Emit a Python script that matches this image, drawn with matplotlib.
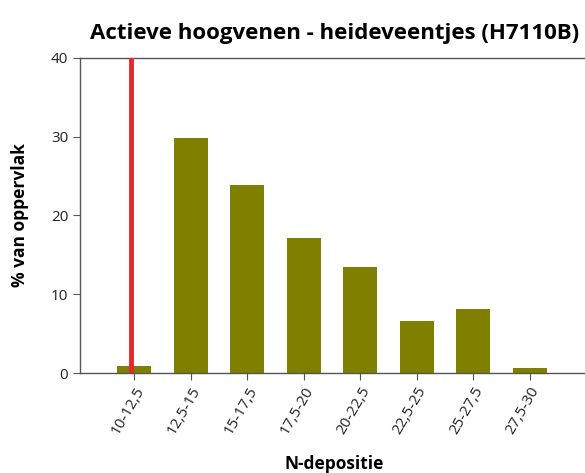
import matplotlib.pyplot as plt

plt.rcParams['font.family'] = ['Open Sans', 'DejaVu Sans']

# N-deposition classes and share of area per class
klassen = ["10-12,5", "12,5-15", "15-17,5", "17,5-20",
           "20-22,5", "22,5-25", "25-27,5", "27,5-30"]
percentage = [0.9, 29.8, 23.9, 17.1, 13.5, 6.6, 8.1, 0.6]
# critical deposition value, in class-index units
kdw_positie = -0.05

fig = plt.figure(figsize=(5.85, 4.73), dpi=100)
ax = fig.add_axes([0.1368, 0.2114, 0.87, 0.666])

x = range(len(klassen))
ax.bar(x, percentage, width=0.6, color='#808000', zorder=2)
ax.axvline(kdw_positie, color='#e8262b', linewidth=3.5, zorder=3)

ax.set_xlim(-0.96, 8.05)
ax.set_ylim(0, 40)
ax.set_yticks([0, 10, 20, 30, 40])
ax.set_xticks(list(x))
ax.set_xticklabels(klassen, rotation=60, ha='right', rotation_mode='anchor')

for side in ['left', 'bottom', 'top']:
    ax.spines[side].set_color('#555555')
    ax.spines[side].set_linewidth(1.0)
ax.spines['right'].set_visible(False)

ax.tick_params(axis='both', direction='out', length=5, color='#555555',
               labelsize=11, labelcolor='#222222')
ax.tick_params(axis='x', pad=3)

ax.set_ylabel('% van oppervlak', fontsize=12.5, fontweight='bold', labelpad=16)
ax.set_xlabel('N-depositie', fontsize=12.5, fontweight='bold', labelpad=13)
ax.set_title('Actieve hoogvenen - heideveentjes (H7110B)', fontsize=16,
             fontweight='bold', pad=14)

fig.savefig('out.png', dpi=100)
